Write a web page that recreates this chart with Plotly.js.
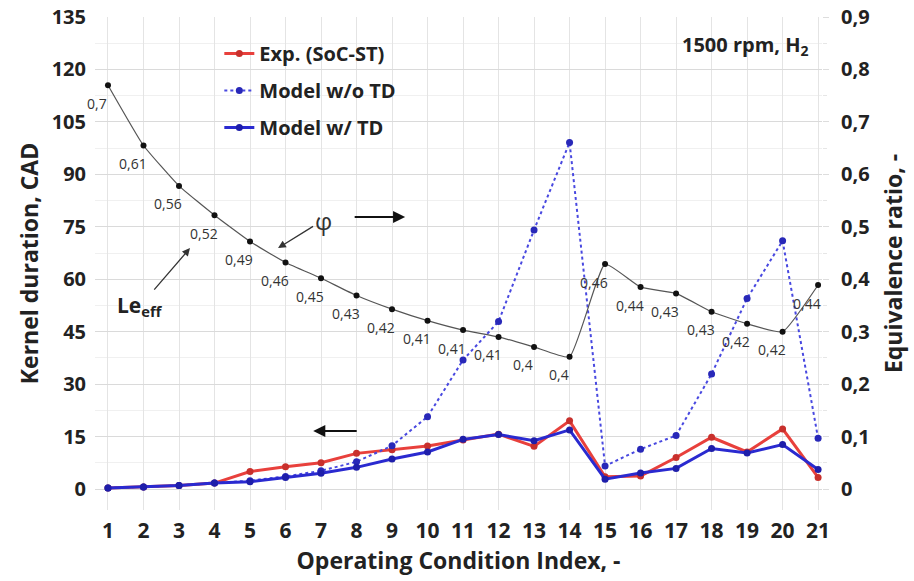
<!DOCTYPE html>
<html>
<head>
<meta charset="utf-8">
<script src="https://cdn.plot.ly/plotly-3.0.1.min.js"></script>
<style>html,body{margin:0;padding:0;background:#fff;}#chart{width:914px;height:581px;}</style>
</head>
<body>
<div id="chart"></div>
<script>
// ---- data ----
var conditionIndex = [1,2,3,4,5,6,7,8,9,10,11,12,13,14,15,16,17,18,19,20,21];
var expSoCST     = [0.3,0.6,1.0,1.7,5.0,6.4,7.5,10.2,11.2,12.3,14.0,15.7,12.2,19.5,3.5,3.7,9.0,14.8,10.6,17.2,3.3];
var modelNoTD    = [0.3,0.6,1.0,1.7,2.4,3.6,5.2,7.8,12.4,20.7,36.9,47.9,74.1,99.1,6.6,11.4,15.3,32.9,54.5,71.0,14.5];
var modelTD      = [0.3,0.6,1.0,1.7,2.1,3.3,4.5,6.2,8.6,10.6,14.2,15.6,13.8,16.9,2.8,4.6,5.9,11.6,10.3,12.7,5.6];
var phi          = [0.770,0.655,0.578,0.522,0.472,0.432,0.402,0.369,0.343,0.321,0.303,0.290,0.271,0.252,0.429,0.385,0.373,0.338,0.315,0.300,0.389];
var leEffLabels  = ["0,7","0,61","0,56","0,52","0,49","0,46","0,45","0,43","0,42","0,41","0,41","0,41","0,4","0,4","0,46","0,44","0,43","0,43","0,42","0,42","0,44"];
var leftTicks    = [0,15,30,45,60,75,90,105,120,135];
var rightTicks   = [0,0.1,0.2,0.3,0.4,0.5,0.6,0.7,0.8,0.9];

var FONT = "Open Sans, Lato, sans-serif";
var TXT = "#222";

var traces = [
  {x: conditionIndex, y: phi, yaxis: "y2", mode: "lines+markers", showlegend: false,
   line: {color: "#555", width: 1.2, shape: "spline", smoothing: 0.4},
   marker: {color: "#111", size: 6}},
  {x: conditionIndex, y: expSoCST, name: "Exp. (SoC-ST)", legendgroup: "a", mode: "lines+markers",
   line: {color: "#e8403c", width: 3}, marker: {color: "#c8302c", size: 7}},
  {x: conditionIndex, y: modelNoTD, name: "Model w/o TD", legendgroup: "b", mode: "lines+markers",
   line: {color: "#4848e0", width: 2, dash: "dot"}, marker: {color: "#2828b8", size: 7}},
  {x: conditionIndex, y: modelTD, name: "Model w/ TD", legendgroup: "c", mode: "lines+markers",
   line: {color: "#2a2ad0", width: 3}, marker: {color: "#1e1eaa", size: 7}}
];

var annotations = [];
for (var i = 0; i < conditionIndex.length; i++) {
  annotations.push({x: conditionIndex[i], y: phi[i], xref: "x", yref: "y2", text: leEffLabels[i],
    showarrow: false, xshift: -11, yshift: -18, font: {family: FONT, size: 14, color: "#333"}});
}
// phi label with its arrow (arrow head on the curve)
annotations.push({x: 5.79, y: 68.9, xref: "x", yref: "y", text: "φ", showarrow: true, arrowhead: 2,
  arrowsize: 1.2, arrowwidth: 1.3, arrowcolor: "#333", ax: 45, ay: -28, standoff: 0,
  font: {family: FONT, size: 24, color: "#333"}});
// Le_eff label with its arrow
annotations.push({x: 3.31, y: 68.9, xref: "x", yref: "y", text: "<b>Le<sub>eff</sub></b>", showarrow: true,
  arrowhead: 2, arrowsize: 1.2, arrowwidth: 1.3, arrowcolor: "#333", ax: -50, ay: 58, standoff: 0,
  font: {family: FONT, size: 21, color: TXT}});
// direction arrows
annotations.push({x: 9.37, y: 77.8, xref: "x", yref: "y", text: "", showarrow: true, arrowhead: 2,
  arrowsize: 1.1, arrowwidth: 2.2, arrowcolor: "#111", ax: -52, ay: 0});
annotations.push({x: 6.78, y: 16.6, xref: "x", yref: "y", text: "", showarrow: true, arrowhead: 2,
  arrowsize: 1.1, arrowwidth: 2.2, arrowcolor: "#111", ax: 45, ay: 0});
annotations.push({x: 0.985, y: 0.943, xref: "paper", yref: "paper", xanchor: "right", yanchor: "middle",
  text: "<b>1500 rpm, H<sub>2</sub></b>", showarrow: false, font: {family: FONT, size: 20, color: TXT}});

var tickFont = {family: FONT, size: 20, color: TXT, weight: "bold"};
var titleFont = {family: FONT, size: 23, color: TXT};

var layout = {
  width: 914, height: 581,
  margin: {l: 95, r: 92, t: 17, b: 71},
  paper_bgcolor: "#fff", plot_bgcolor: "#fff",
  separators: ",.",
  showlegend: true,
  legend: {x: 0.171, y: 0.9655, xanchor: "left", yanchor: "top", bgcolor: "rgba(255,255,255,0)",
    font: {family: FONT, size: 20, color: TXT, weight: "bold"}, tracegroupgap: 8, traceorder: "grouped"},
  xaxis: {range: [0.634, 21.11], tickvals: conditionIndex, showgrid: true, gridcolor: "#e4e4e4",
    zeroline: false, showline: false, ticks: "", ticklabelstandoff: 6,
    tickfont: {family: FONT, size: 21, color: TXT, weight: "bold"},
    title: {text: "<b>Operating Condition Index, -</b>", font: titleFont, standoff: 6}},
  yaxis: {range: [-6, 135], tickvals: leftTicks, showgrid: true, gridcolor: "#dadada", zeroline: false,
    showline: false, ticks: "", ticklabelstandoff: 8,
    minor: {dtick: 7.5, tick0: 0, showgrid: true, gridcolor: "#f0f0f0"},
    tickfont: tickFont,
    title: {text: "<b>Kernel duration, CAD</b>", font: titleFont, standoff: 6}},
  yaxis2: {range: [-0.04, 0.9], tickvals: rightTicks, overlaying: "y", side: "right", showgrid: false,
    zeroline: false, showline: false, ticks: "outside", ticklen: 6, tickcolor: "#ddd",
    minor: {dtick: 0.05, tick0: 0, ticks: "outside", ticklen: 4, tickcolor: "#e6e6e6"},
    ticklabelstandoff: 8,
    tickfont: tickFont,
    title: {text: "<b>Equivalence ratio, -</b>", font: titleFont, standoff: 16}},
  annotations: annotations
};

Plotly.newPlot("chart", traces, layout, {displayModeBar: false, staticPlot: true});
</script>
</body>
</html>
